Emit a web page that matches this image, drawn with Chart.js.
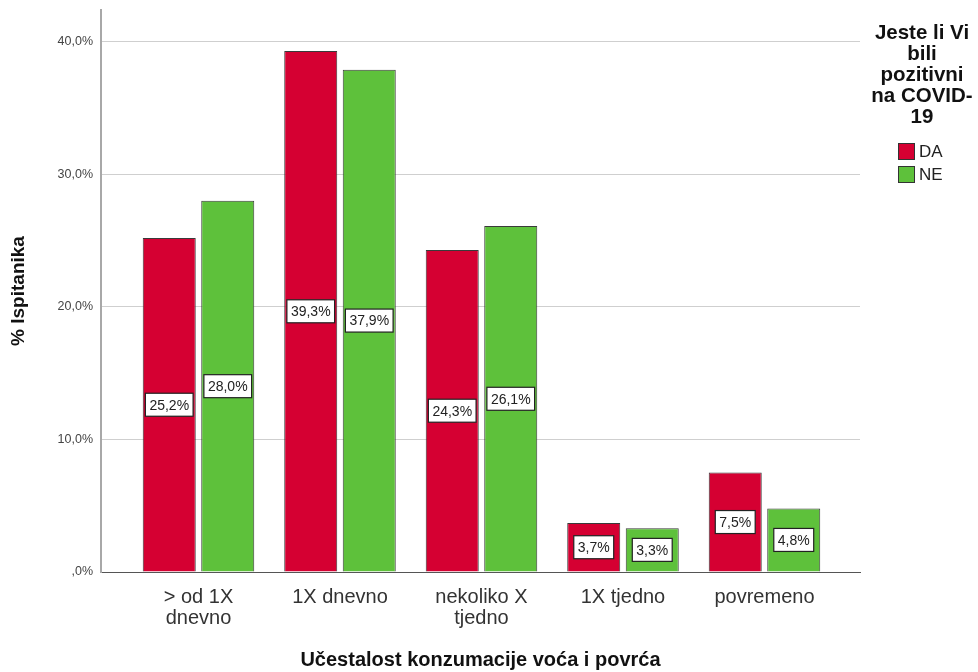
<!DOCTYPE html>
<html>
<head>
<meta charset="utf-8">
<script src="https://cdn.jsdelivr.net/npm/chart.js@4"></script>
<style>
  html, body { margin: 0; padding: 0; background: #fff; }
  #wrap { width: 978px; height: 672px; }
</style>
</head>
<body>
<div id="wrap"><canvas id="bars"></canvas></div>
<script>
const categories = [['> od 1X', 'dnevno'], '1X dnevno', ['nekoliko X', 'tjedno'], '1X tjedno', 'povremeno'];
const da = [25.2, 39.3, 24.3, 3.7, 7.5];
const ne = [28.0, 37.9, 26.1, 3.3, 4.8];
const yTicks = [0, 10, 20, 30, 40];
const legendTitle = ['Jeste li Vi', 'bili', 'pozitivni', 'na COVID-', '19'];

const FONT = "'Liberation Sans', Arial, sans-serif";
const fmt = v => (v === 0 ? ',0' : v.toFixed(1).replace('.', ',')) + '%';

// white boxes with the percentage in the middle of every bar
const barLabels = {
  id: 'barLabels',
  afterDatasetsDraw(chart) {
    const ctx = chart.ctx;
    ctx.save();
    ctx.font = '14px ' + FONT;
    ctx.textAlign = 'center';
    ctx.textBaseline = 'middle';
    chart.data.datasets.forEach((ds, di) => {
      chart.getDatasetMeta(di).data.forEach((bar, i) => {
        const txt = fmt(ds.data[i].y);
        const w = ctx.measureText(txt).width + 8;
        const h = 23;
        const cy = (bar.y + bar.base) / 2;
        ctx.fillStyle = '#fff';
        ctx.fillRect(bar.x - w / 2, cy - h / 2, w, h);
        ctx.strokeStyle = '#222';
        ctx.lineWidth = 1.2;
        ctx.strokeRect(bar.x - w / 2, cy - h / 2, w, h);
        ctx.fillStyle = '#222';
        ctx.fillText(txt, bar.x, cy + 1);
      });
    });
    ctx.restore();
  }
};

// legend on the right, SPSS style
const sideLegend = {
  id: 'sideLegend',
  afterDraw(chart) {
    const ctx = chart.ctx;
    ctx.save();
    ctx.fillStyle = '#111';
    ctx.font = 'bold 20.5px ' + FONT;
    ctx.textAlign = 'center';
    ctx.textBaseline = 'middle';
    legendTitle.forEach((line, i) => ctx.fillText(line, 922, 33 + i * 21));
    ctx.font = '17px ' + FONT;
    ctx.textAlign = 'left';
    chart.data.datasets.forEach((ds, i) => {
      const y = 143 + i * 23;
      ctx.fillStyle = ds.backgroundColor;
      ctx.fillRect(898, y, 17, 17);
      ctx.strokeStyle = '#333';
      ctx.lineWidth = 1;
      ctx.strokeRect(898.5, y + 0.5, 16, 16);
      ctx.fillStyle = '#222';
      ctx.fillText(ds.label, 919, y + 9);
    });
    ctx.restore();
  }
};

const ctx = document.getElementById('bars').getContext('2d');
const chart = new Chart(ctx, {
  type: 'bar',
  data: {
    datasets: [{
      label: 'DA',
      data: da.map((v, i) => ({ x: i, y: v })),
      backgroundColor: '#d50032',
      borderColor: '#3a3a3a',
      borderWidth: 1
    }, {
      label: 'NE',
      data: ne.map((v, i) => ({ x: i, y: v })),
      backgroundColor: '#5ec13b',
      borderColor: '#3a3a3a',
      borderWidth: 1
    }]
  },
  options: {
    responsive: true,
    maintainAspectRatio: false,
    animation: false,
    categoryPercentage: 0.827,
    barPercentage: 0.906,
    layout: { padding: { top: 10, right: 118, left: 0, bottom: 0 } },
    plugins: {
      legend: { display: false },
      tooltip: { enabled: false }
    },
    scales: {
      x: {
        type: 'linear',
        offset: false,
        min: -0.689,
        max: 4.675,
        afterBuildTicks: s => { s.ticks = categories.map((c, i) => ({ value: i })); },
        afterFit: s => { s.height = 100; },
        grid: { display: false, drawTicks: false },
        border: { display: true, color: '#555', width: 1 },
        ticks: {
          autoSkip: false,
          maxRotation: 0,
          padding: 15,
          color: '#333',
          font: { family: FONT, size: 20, lineHeight: 1.05 },
          callback: v => categories[v]
        },
        title: {
          display: true,
          text: 'Učestalost konzumacije voća i povrća',
          color: '#111',
          font: { family: FONT, size: 20, weight: 'bold' },
          padding: { top: 22, bottom: 0 }
        }
      },
      y: {
        min: 0,
        max: 42.4,
        afterBuildTicks: s => { s.ticks = yTicks.map(v => ({ value: v })); },
        afterFit: s => { s.width = 101; s.paddingTop = 0; s.paddingBottom = 0; },
        grid: { color: '#cfcfcf', lineWidth: 1, drawTicks: false },
        border: { display: true, color: '#a8a8a8', width: 2 },
        ticks: {
          padding: 8,
          color: '#444',
          font: { family: FONT, size: 12.5 },
          callback: v => fmt(v)
        },
        title: {
          display: true,
          text: '% Ispitanika',
          color: '#111',
          font: { family: FONT, size: 19, weight: 'bold' },
          padding: { top: 7, bottom: 0 }
        }
      }
    }
  },
  plugins: [barLabels, sideLegend]
});
</script>
</body>
</html>
